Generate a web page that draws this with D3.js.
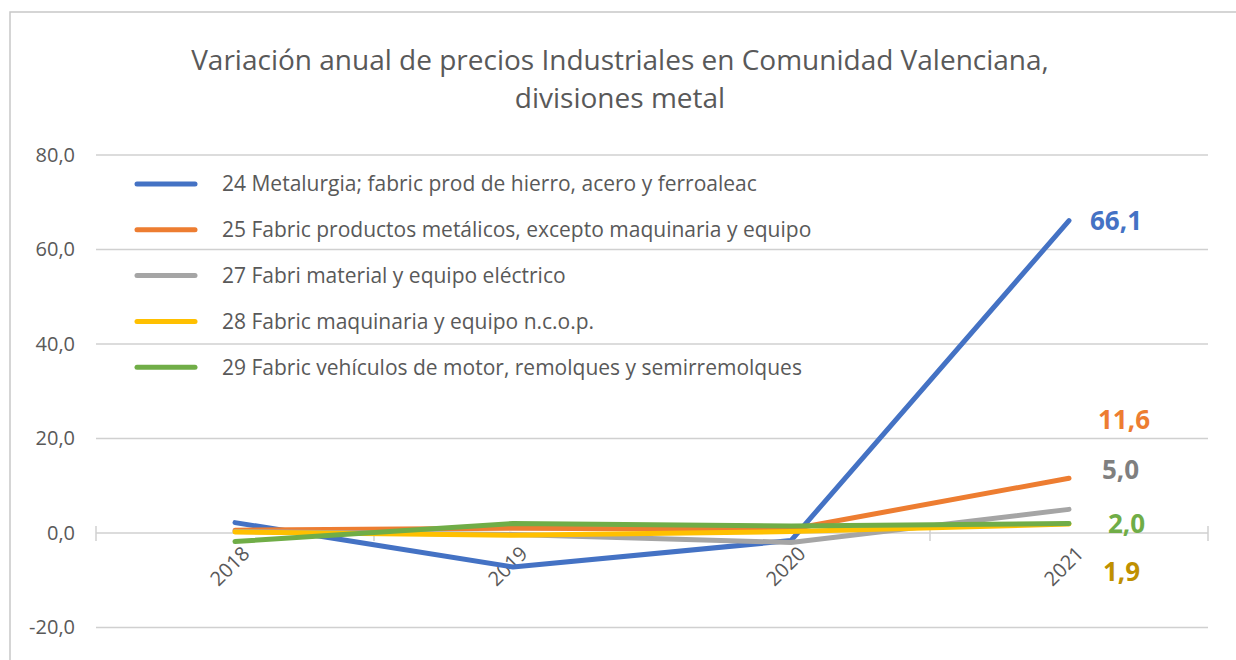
<!DOCTYPE html>
<html>
<head>
<meta charset="utf-8">
<script src="https://cdn.jsdelivr.net/npm/d3@7"></script>
<style>
  body { margin: 0; background: #fff; }
  text { font-family: "Open Sans", sans-serif; }
</style>
</head>
<body>
<div id="chart"></div>
<script>
'use strict'

// data
const years = ['2018', '2019', '2020', '2021']
const seriesNames = [
    '24 Metalurgia; fabric prod de hierro, acero y ferroaleac',
    '25 Fabric productos metálicos, excepto maquinaria y equipo',
    '27 Fabri material y equipo eléctrico',
    '28 Fabric maquinaria y equipo n.c.o.p.',
    '29 Fabric vehículos de motor, remolques y semirremolques'
]
const metalurgia = [2.2, -7.2, -1.6, 66.1]
const productosMetalicos = [0.6, 1.0, 0.8, 11.6]
const materialElectrico = [0.3, -0.3, -2.0, 5.0]
const maquinaria = [0.2, -0.5, 0.3, 1.9]
const vehiculos = [-1.8, 2.0, 1.5, 2.0]
const yTicks = [-20, 0, 20, 40, 60, 80]

const seriesValues = [metalurgia, productosMetalicos, materialElectrico, maquinaria, vehiculos]
const colors = ['#4472C4', '#ED7D31', '#A5A5A5', '#FFC000', '#70AD47']
const labelColors = ['#4472C4', '#ED7D31', '#7F7F7F', '#BF9000', '#70AD47']
// manual label nudges (px) like the excel chart
const labelShift = [[21, 0], [29, -58], [33, -39], [34, 48], [39, 0]]

////////////////////////////////////
//////////// svg setup /////////////
////////////////////////////////////
const svgWidth = 1236, svgHeight = 660
const plot = { left: 96, right: 1208, top: 155, bottom: 627.5 }

const svg = d3.select('#chart')
    .append('svg')
    .attr('width', svgWidth)
    .attr('height', svgHeight)

// chart frame
svg.append('rect')
    .attr('x', 10).attr('y', 12)
    .attr('width', 1260).attr('height', 700)
    .style('fill', '#fff')
    .style('stroke', '#C8C8C8')
    .style('stroke-width', 1.5)

// title
svg.append('text')
    .attr('x', 620).attr('y', 70)
    .attr('text-anchor', 'middle')
    .style('font-size', '28px')
    .style('fill', '#595959')
    .text('Variación anual de precios Industriales en Comunidad Valenciana,')
svg.append('text')
    .attr('x', 620).attr('y', 108)
    .attr('text-anchor', 'middle')
    .style('font-size', '28px')
    .style('fill', '#595959')
    .text('divisiones metal')

////////////////////////////////////
//////////// scales ////////////////
////////////////////////////////////
const x = d3.scaleBand()
    .domain(years)
    .range([plot.left, plot.right])

const y = d3.scaleLinear()
    .domain([-20, 80])
    .range([plot.bottom, plot.top])

const fmt = v => d3.format('.1f')(v).replace('.', ',').replace('−', '-')

// gridlines
svg.append('g')
    .selectAll('line')
    .data(yTicks.filter(d => d !== 0))
    .join('line')
    .attr('x1', plot.left).attr('x2', plot.right)
    .attr('y1', d => y(d)).attr('y2', d => y(d))
    .style('stroke', '#D0D0D0')
    .style('stroke-width', 1.5)

// y labels
const yAxis = svg.append('g')
    .attr('transform', `translate(${plot.left},0)`)
    .call(d3.axisLeft(y).tickValues(yTicks).tickSize(0).tickPadding(21).tickFormat(fmt))
yAxis.select('.domain').remove()
yAxis.selectAll('text')
    .style('font-size', '20px')
    .style('fill', '#595959')
    .style('font-family', '"Open Sans", sans-serif')

// x axis on zero line
const xAxis = svg.append('g')
    .attr('transform', `translate(0,${y(0)})`)
xAxis.append('line')
    .attr('x1', plot.left).attr('x2', plot.right)
    .style('stroke', '#D0D0D0')
    .style('stroke-width', 1.5)
const boundaries = years.map(d => x(d)).concat([plot.right])
xAxis.selectAll('.tick-mark')
    .data(boundaries)
    .join('line')
    .attr('class', 'tick-mark')
    .attr('x1', d => d).attr('x2', d => d)
    .attr('y1', (d, i) => (i === 0 || i === boundaries.length - 1) ? -7 : -4)
    .attr('y2', 8)
    .style('stroke', '#D0D0D0')
    .style('stroke-width', 1.5)

xAxis.selectAll('.xlab')
    .data(years)
    .join('text')
    .attr('class', 'xlab')
    .attr('transform', d => `translate(${x(d) + x.bandwidth() / 2 + 6},${12}) rotate(-45)`)
    .attr('text-anchor', 'end')
    .attr('dy', '0.7em')
    .style('font-size', '20px')
    .style('fill', '#595959')
    .text(d => d)

////////////////////////////////////
//////////// lines /////////////////
////////////////////////////////////
const line = d3.line()
    .x((d, i) => x(years[i]) + x.bandwidth() / 2)
    .y(d => y(d))

svg.append('g')
    .selectAll('path')
    .data(seriesValues)
    .join('path')
    .attr('d', d => line(d))
    .style('fill', 'none')
    .style('stroke', (d, i) => colors[i])
    .style('stroke-width', 5)
    .style('stroke-linecap', 'round')
    .style('stroke-linejoin', 'round')

// end labels
const last = years.length - 1
svg.append('g')
    .selectAll('text')
    .data(seriesValues)
    .join('text')
    .attr('x', (d, i) => x(years[last]) + x.bandwidth() / 2 + labelShift[i][0])
    .attr('y', (d, i) => y(d[last]) + labelShift[i][1])
    .attr('dy', '0.35em')
    .style('font-size', '26px')
    .style('font-weight', 'bold')
    .style('fill', (d, i) => labelColors[i])
    .text(d => fmt(d[last]))

////////////////////////////////////
//////////// legend ////////////////
////////////////////////////////////
const legend = svg.append('g')
    .selectAll('g')
    .data(seriesNames)
    .join('g')
    .attr('transform', (d, i) => `translate(137,${184 + i * 45.8})`)

legend.append('line')
    .attr('x1', 0).attr('x2', 58)
    .style('stroke', (d, i) => colors[i])
    .style('stroke-width', 5)
    .style('stroke-linecap', 'round')

legend.append('text')
    .attr('x', 85)
    .attr('dy', '0.35em')
    .style('font-size', '21px')
    .style('fill', '#595959')
    .text(d => d)
</script>
</body>
</html>
